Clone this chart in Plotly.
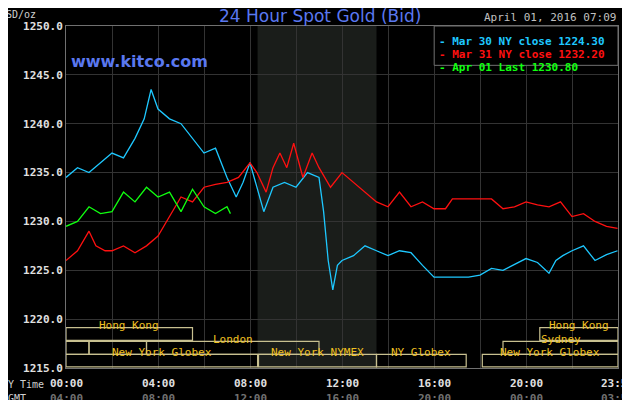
import plotly.graph_objects as go

# hours (NY time) and prices
mar30_h = [0, 0.5, 1, 1.5, 2, 2.5, 3, 3.4, 3.7, 4, 4.5, 5, 5.5, 6, 6.5, 7, 7.4, 7.7, 8, 8.3, 8.6, 9, 9.5, 10, 10.5, 11, 11.2, 11.4, 11.6, 11.8, 12, 12.5, 13, 13.5, 14, 14.5, 15, 15.5, 16, 16.5, 17, 17.5, 18, 18.5, 19, 19.5, 20, 20.5, 21, 21.3, 21.6, 22, 22.5, 23, 23.5, 23.98]
mar30_p = [1234.5, 1235.5, 1235.0, 1236.0, 1237.0, 1236.5, 1238.5, 1240.5, 1243.5, 1241.5, 1240.5, 1240.0, 1238.5, 1237.0, 1237.5, 1234.5, 1232.5, 1234.0, 1236.0, 1233.5, 1231.0, 1233.5, 1234.0, 1233.5, 1235.0, 1234.5, 1231.0, 1226.0, 1223.0, 1225.5, 1226.0, 1226.5, 1227.5, 1227.0, 1226.5, 1227.0, 1226.8, 1225.5, 1224.3, 1224.3, 1224.3, 1224.3, 1224.5, 1225.2, 1225.0, 1225.6, 1226.2, 1225.8, 1224.7, 1226.0, 1226.5, 1227.0, 1227.5, 1226.0, 1226.6, 1227.0]

mar31_h = [0, 0.5, 1, 1.3, 1.7, 2, 2.5, 3, 3.5, 4, 4.5, 5, 5.5, 6, 6.5, 7, 7.5, 8, 8.3, 8.7, 9, 9.3, 9.6, 9.9, 10.3, 10.7, 11, 11.5, 12, 12.5, 13, 13.5, 14, 14.5, 15, 15.5, 16, 16.5, 16.8, 17.5, 18.5, 19, 19.5, 20, 20.5, 21, 21.5, 22, 22.5, 23, 23.5, 23.98]
mar31_p = [1226.0, 1227.0, 1229.0, 1227.5, 1227.0, 1227.0, 1227.5, 1226.8, 1227.5, 1228.5, 1230.5, 1232.5, 1232.0, 1233.5, 1233.8, 1234.0, 1234.5, 1236.0, 1235.0, 1233.0, 1235.5, 1237.0, 1235.5, 1238.0, 1234.5, 1237.0, 1235.5, 1233.5, 1235.0, 1234.0, 1233.0, 1232.0, 1231.5, 1233.0, 1231.5, 1232.0, 1231.3, 1231.3, 1232.3, 1232.3, 1232.3, 1231.3, 1231.5, 1232.0, 1231.7, 1231.5, 1232.0, 1230.5, 1230.8, 1230.0, 1229.5, 1229.3]

apr01_h = [0, 0.5, 1, 1.5, 2, 2.5, 3, 3.5, 4, 4.5, 5, 5.5, 6, 6.5, 7, 7.15]
apr01_p = [1229.5, 1230.0, 1231.5, 1230.8, 1231.0, 1233.0, 1232.0, 1233.5, 1232.5, 1233.0, 1231.0, 1233.3, 1231.5, 1230.8, 1231.5, 1230.8]

ny_ticks = ["00:00", "04:00", "08:00", "12:00", "16:00", "20:00", "23:59"]
gmt_ticks = ["04:00", "08:00", "12:00", "16:00", "20:00", "00:00", "03:59"]
tick_pos = [0, 4, 8, 12, 16, 20, 23.983]

# session boxes: (start, end, row, label)
sessions = [
    (0, 5.5, 2, "Hong Kong"), (20.6, 24, 2, "Hong Kong"),
    (0, 1, 1, ""), (1, 3.5, 1, ""), (3.5, 11, 1, "London"), (19, 24, 1, "Sydney"),
    (0, 8.33, 0, "New York Globex"), (8.37, 13.5, 0, "New York NYMEX"),
    (13.5, 17.4, 0, "NY Globex"), (18.1, 24, 0, "New York Globex"),
]

mono = "DejaVu Sans Mono"
fig = go.Figure()
fig.add_trace(go.Scatter(x=mar30_h, y=mar30_p, mode="lines", line=dict(color="#1ec8ff", width=1.3)))
fig.add_trace(go.Scatter(x=mar31_h, y=mar31_p, mode="lines", line=dict(color="#ff1010", width=1.3)))
fig.add_trace(go.Scatter(x=apr01_h, y=apr01_p, mode="lines", line=dict(color="#10ff10", width=1.3)))

fig.add_shape(type="rect", x0=8.33, x1=13.5, y0=0, y1=1, yref="paper",
              fillcolor="#1a1d1a", line_width=0, layer="below")

rows = [(0.003, 0.040), (0.040, 0.078), (0.081, 0.118)]
for s, e, r, lab in sessions:
    y0, y1 = rows[r]
    fig.add_shape(type="rect", x0=s, x1=e, y0=y0, y1=y1, yref="paper",
                  line=dict(color="#c8c090", width=1.2), fillcolor="rgba(0,0,0,0)")
    if lab:
        fig.add_annotation(x=(s + e) / 2, y=(y0 + y1) / 2, yref="paper", text=lab,
                           showarrow=False, font=dict(color="#f0c020", size=11, family=mono))

for p, a, b in zip(tick_pos, ny_ticks, gmt_ticks):
    fig.add_annotation(x=p, y=-0.02, yref="paper", yanchor="top", text="<b>" + a + "</b>",
                       showarrow=False, font=dict(color="#e0e0e0", size=11, family=mono))
    fig.add_annotation(x=p, y=-0.063, yref="paper", yanchor="top", text="<b>" + b + "</b>",
                       showarrow=False, font=dict(color="#707070", size=11, family=mono))

fig.add_annotation(x=0, y=-0.025, xref="paper", yref="paper", xanchor="right", yanchor="top", xshift=-20,
                   text="NY Time", showarrow=False, font=dict(color="#d0d0d0", size=10, family=mono))
fig.add_annotation(x=0, y=-0.068, xref="paper", yref="paper", xanchor="right", yanchor="top", xshift=-38,
                   text="GMT", showarrow=False, font=dict(color="#d0d0d0", size=10, family=mono))
fig.add_annotation(x=0, y=1.0, xref="paper", yref="paper", xanchor="right", yanchor="bottom", xshift=-28, yshift=4,
                   text="USD/oz", showarrow=False, font=dict(color="#d0d0d0", size=10, family=mono))
fig.add_annotation(x=0.46, y=1.0, xref="paper", yref="paper", yanchor="bottom", yshift=-2,
                   text="24 Hour Spot Gold (Bid)", showarrow=False,
                   font=dict(color="#5a78f0", size=17, family="DejaVu Sans"))
fig.add_annotation(x=0.005, y=0.93, xref="paper", yref="paper", xanchor="left",
                   text="<b>www.kitco.com</b>", showarrow=False,
                   font=dict(color="#5a78f0", size=16, family="DejaVu Sans"))
fig.add_annotation(x=1.0, y=1.0, xref="paper", yref="paper", xanchor="right", yanchor="bottom",
                   text="April 01, 2016 07:09", showarrow=False,
                   font=dict(color="#c0c0c0", size=11, family=mono))

fig.add_shape(type="rect", xref="paper", yref="paper", x0=0.667, x1=1.0, y0=0.885, y1=1.0,
              fillcolor="#000000", line=dict(color="#707070", width=1))
leg = [("- Mar 30 NY close 1224.30", "#1ec8ff"), ("- Mar 31 NY close 1232.20", "#ff1010"),
       ("- Apr 01 Last 1230.80", "#10ff10")]
for i, (t, c) in enumerate(leg):
    fig.add_annotation(x=0.672, y=0.98 - i * 0.038, xref="paper", yref="paper", xanchor="left",
                       text="<b>" + t + "</b>", showarrow=False, font=dict(color=c, size=11, family=mono))

fig.update_layout(
    width=630, height=400, showlegend=False,
    paper_bgcolor="#000000", plot_bgcolor="#000000",
    margin=dict(l=58, r=20, t=14, b=40),
    xaxis=dict(range=[0, 24], tickvals=[0, 2, 4, 6, 8, 10, 12, 14, 16, 18, 20, 22], showticklabels=False,
               showgrid=True, gridcolor="#333333", zeroline=False,
               showline=True, linecolor="#707070", mirror=True),
    yaxis=dict(range=[1215, 1250], tickvals=[1215, 1220, 1225, 1230, 1235, 1240, 1245, 1250],
               ticktext=["<b>%.1f</b>" % v for v in [1215, 1220, 1225, 1230, 1235, 1240, 1245, 1250]],
               tickfont=dict(color="#e0e0e0", size=11, family=mono),
               showgrid=True, gridcolor="#333333", zeroline=False,
               showline=True, linecolor="#707070", mirror=True),
)

fig.write_html("out.html")
